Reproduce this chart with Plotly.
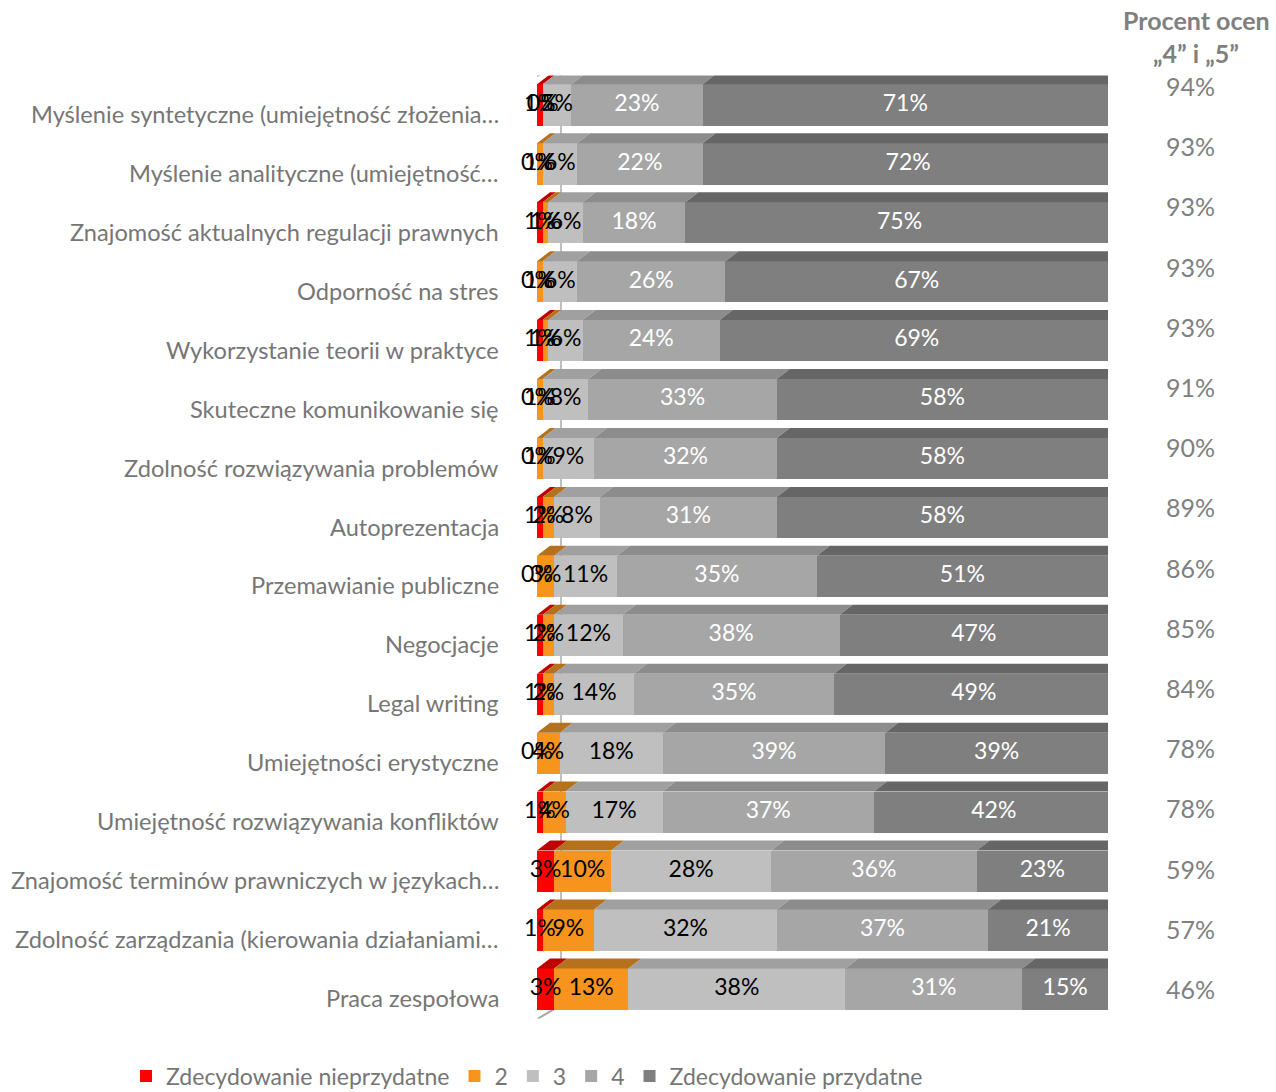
import plotly.graph_objects as go

categories = [
    "Myślenie syntetyczne (umiejętność złożenia…",
    "Myślenie analityczne (umiejętność…",
    "Znajomość aktualnych regulacji prawnych",
    "Odporność na stres",
    "Wykorzystanie teorii w praktyce",
    "Skuteczne komunikowanie się",
    "Zdolność rozwiązywania problemów",
    "Autoprezentacja",
    "Przemawianie publiczne",
    "Negocjacje",
    "Legal writing",
    "Umiejętności erystyczne",
    "Umiejętność rozwiązywania konfliktów",
    "Znajomość terminów prawniczych w językach…",
    "Zdolność zarządzania (kierowania działaniami…",
    "Praca zespołowa",
]
series_names = ["Zdecydowanie nieprzydatne", "2", "3", "4", "Zdecydowanie przydatne"]
s1 = [1, 0, 1, 0, 1, 0, 0, 1, 0, 1, 1, 0, 1, 3, 1, 3]
s2 = [0, 1, 1, 1, 1, 1, 1, 2, 3, 2, 2, 4, 4, 10, 9, 13]
s3 = [5, 6, 6, 6, 6, 8, 9, 8, 11, 12, 14, 18, 17, 28, 32, 38]
s4 = [23, 22, 18, 26, 24, 33, 32, 31, 35, 38, 35, 39, 37, 36, 37, 31]
s5 = [71, 72, 75, 67, 69, 58, 58, 58, 51, 47, 49, 39, 42, 23, 21, 15]
pct45 = ["94%", "93%", "93%", "93%", "93%", "91%", "90%", "89%", "86%", "85%", "84%", "78%", "78%", "59%", "57%", "46%"]
header = ["Procent ocen", "„4” i „5”"]

series = [s1, s2, s3, s4, s5]
front_colors = ["#ff0000", "#f7941d", "#bfbfbf", "#a6a6a6", "#7f7f7f"]
top_colors = ["#c00000", "#b5711c", "#a0a0a0", "#8c8c8c", "#666666"]
text_colors = ["#000000", "#000000", "#000000", "#ffffff", "#ffffff"]
side_color = "#555555"

W, H = 1276, 1092
X0PX, X1PX = 537, 1108          # pixel positions of 0 and 100
Y_TOP_PX, Y_BOT_PX = 75.5, 1018.5
n = len(categories)
ypos = list(range(n))
px_x = 100.0 / (X1PX - X0PX)   # data units per pixel (x)
px_y = n / (Y_BOT_PX - Y_TOP_PX)  # data units per pixel (y)
DX = 13 * px_x
DY = 10 * px_y
half = 0.35

FONT = "Lato"
fig = go.Figure()

# bars
for k, (name, vals) in enumerate(zip(series_names, series)):
    fig.add_trace(go.Bar(
        y=ypos, x=vals, name=name, orientation="h",
        marker=dict(color=front_colors[k], line=dict(width=0)),
        width=2 * half, hoverinfo="skip",
    ))

# segment labels + 3D faces
shapes = []
starts = [0.0] * n
for k, vals in enumerate(series):
    xs = []
    for i, v in enumerate(vals):
        a = starts[i]
        b = a + v
        xs.append(a + v / 2)
        top = i - half
        shapes.append(dict(
            type="path", xref="x", yref="y", layer="above",
            path=f"M{a},{top} L{a+DX},{top-DY} L{b+DX},{top-DY} L{b},{top} Z",
            fillcolor=top_colors[k], line=dict(width=0),
        ))
        if k == len(series) - 1:
            bot = i + half
            shapes.append(dict(
                type="path", xref="x", yref="y", layer="above",
                path=f"M{b},{top} L{b+DX},{top-DY} L{b+DX},{bot-DY} L{b},{bot} Z",
                fillcolor=side_color, line=dict(width=0),
            ))
        starts[i] = b
    fig.add_trace(go.Scatter(
        y=ypos, x=xs, mode="text", text=[f"{v}%" for v in vals],
        textfont=dict(family=FONT, size=23, color=text_colors[k]),
        showlegend=False, hoverinfo="skip", cliponaxis=False,
    ))

# wall / axis decoration
wall_front = -12 * px_x
wall_back = 24 * px_x
wt = -0.37
wb = wt + n
bt = wt - 21 * px_y
bb = wb - 21 * px_y
wall_line = dict(color="#a6a6a6", width=2)
shapes.append(dict(type="line", xref="x", yref="y", layer="below",
                   x0=wall_front, x1=wall_front, y0=wt, y1=wb, line=wall_line))
shapes.append(dict(type="line", xref="x", yref="y", layer="below",
                   x0=wall_back, x1=wall_back, y0=bt, y1=bb, line=dict(color="#bfbfbf", width=2)))
shapes.append(dict(type="line", xref="x", yref="y", layer="below",
                   x0=wall_front, x1=wall_back, y0=wt, y1=bt, line=wall_line))
shapes.append(dict(type="line", xref="x", yref="y", layer="below",
                   x0=wall_front, x1=wall_back, y0=wb, y1=bb, line=wall_line))
for t in range(n + 1):
    shapes.append(dict(type="line", xref="x", yref="y", layer="below",
                       x0=wall_front - 6 * px_x, x1=wall_front, y0=wt + t, y1=wt + t, line=wall_line))

annotations = []
for i, c in enumerate(categories):
    annotations.append(dict(
        x=501 / W, xref="paper", y=i, yref="y", text=c, showarrow=False,
        xanchor="right", yanchor="middle", yshift=-9,
        font=dict(family=FONT, size=23.6, color="#767676"),
    ))
for i, p in enumerate(pct45):
    annotations.append(dict(
        x=1190 / W, xref="paper", y=i, yref="y", text=p, showarrow=False,
        xanchor="center", yanchor="middle", yshift=19 * (1 - i / (n - 1)),
        font=dict(family=FONT, size=25, color="#808080"),
    ))
for j, h in enumerate(header):
    annotations.append(dict(
        x=1196 / W, xref="paper", y=1 - (20 + 33 * j) / H, yref="paper",
        text=f"<b>{h}</b>", showarrow=False, xanchor="center", yanchor="middle",
        font=dict(family=FONT, size=25, color="#808080"),
    ))

fig.update_layout(
    width=W, height=H, barmode="stack", bargap=0.3,
    margin=dict(l=0, r=0, t=0, b=0, autoexpand=False),
    paper_bgcolor="white", plot_bgcolor="rgba(0,0,0,0)",
    xaxis=dict(range=[0, 100], domain=[X0PX / W, X1PX / W], visible=False, fixedrange=True),
    yaxis=dict(range=[n - 0.5, -0.5], domain=[1 - Y_BOT_PX / H, 1 - Y_TOP_PX / H],
               visible=False, fixedrange=True),
    shapes=shapes, annotations=annotations,
    legend=dict(orientation="h", xref="container", yref="container",
                x=126 / W, xanchor="left", y=1 - 1076 / H, yanchor="middle",
                font=dict(family=FONT, size=23, color="#767676"), traceorder="normal",
                bgcolor="rgba(0,0,0,0)"),
    showlegend=True,
)
fig.write_html("out.html", config={"displayModeBar": False},
               post_script="document.body.style.margin='0';")
